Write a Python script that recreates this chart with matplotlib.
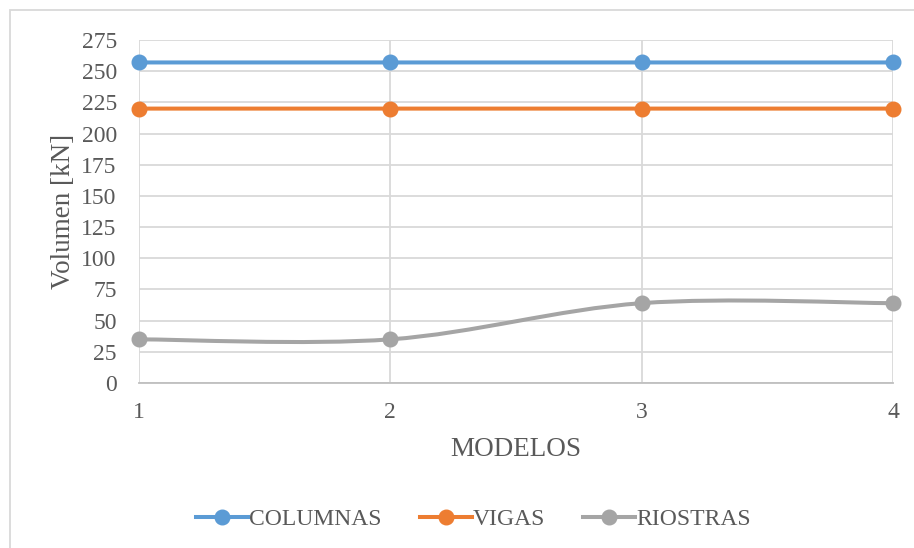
import numpy as np
import matplotlib.pyplot as plt
from matplotlib.path import Path
from matplotlib.patches import PathPatch, Rectangle
from matplotlib.lines import Line2D

plt.rcParams['font.family'] = ['Liberation Serif', 'DejaVu Serif']

modelos = [1, 2, 3, 4]
columnas = [257, 257, 257, 257]
vigas = [220, 220, 220, 220]
riostras = [35, 35, 64, 64]

series = [
    ('COLUMNAS', columnas, '#5B9BD5'),
    ('VIGAS', vigas, '#ED7D31'),
    ('RIOSTRAS', riostras, '#A5A5A5'),
]
text_color = '#595959'


def smooth_path(xs, ys):
    # cubic bezier through the points, same style as spreadsheet "smoothed line"
    pts = np.column_stack([xs, ys]).astype(float)
    ext = np.vstack([pts[0], pts, pts[-1]])
    verts = [tuple(pts[0])]
    codes = [Path.MOVETO]
    for i in range(1, len(ext) - 2):
        p0, p1, p2, p3 = ext[i - 1], ext[i], ext[i + 1], ext[i + 2]
        c1 = p1 + (p2 - p0) / 6.0
        c2 = p2 - (p3 - p1) / 6.0
        verts += [tuple(c1), tuple(c2), tuple(p2)]
        codes += [Path.CURVE4] * 3
    return Path(verts, codes)


fig = plt.figure(figsize=(9.14, 5.48), dpi=100)
ax = fig.add_axes([139 / 914, 1 - 383 / 548, (893 - 139) / 914, (383 - 40) / 548])

for name, vals, color in series:
    ax.add_patch(PathPatch(smooth_path(modelos, vals), facecolor='none',
                           edgecolor=color, lw=2.9, capstyle='round', zorder=3))
    ax.plot(modelos, vals, linestyle='none', marker='o', markersize=10.5,
            color=color, zorder=4, clip_on=False)

ax.set_xlim(1, 4)
ax.set_ylim(0, 275)
ax.set_xticks(modelos)
ax.set_yticks(np.arange(0, 276, 25))
ax.grid(True, color='#D9D9D9', lw=1.3)
ax.set_axisbelow(True)
for s in ['top', 'right', 'left']:
    ax.spines[s].set_visible(False)
ax.spines['bottom'].set_color('#BFBFBF')
ax.spines['bottom'].set_linewidth(1.3)
ax.tick_params(length=0, labelsize=17, colors=text_color)
ax.tick_params(axis='y', pad=16)
ax.tick_params(axis='x', pad=14)

ax.set_xlabel('MODELOS', fontsize=19.5, color=text_color, labelpad=10)
ax.set_ylabel('Volumen [kN]', fontsize=19.5, color=text_color, labelpad=4)

handles = [Line2D([], [], color=c, lw=2.9, marker='o', markersize=10.5) for _, _, c in series]
fig.legend(handles, [n for n, _, _ in series], loc='center', bbox_to_anchor=(0.518, 1 - 519 / 548),
           ncol=3, frameon=False, fontsize=17, labelcolor=text_color,
           handlelength=2.2, handletextpad=0.05, columnspacing=1.6)

# chart area border
fig.add_artist(Rectangle((10 / 914, -0.1), 1.2, 1 - 10 / 548 + 0.1, transform=fig.transFigure,
                         fill=False, edgecolor='#D9D9D9', lw=1.3))

fig.savefig('out.png', dpi=100, facecolor='white')
